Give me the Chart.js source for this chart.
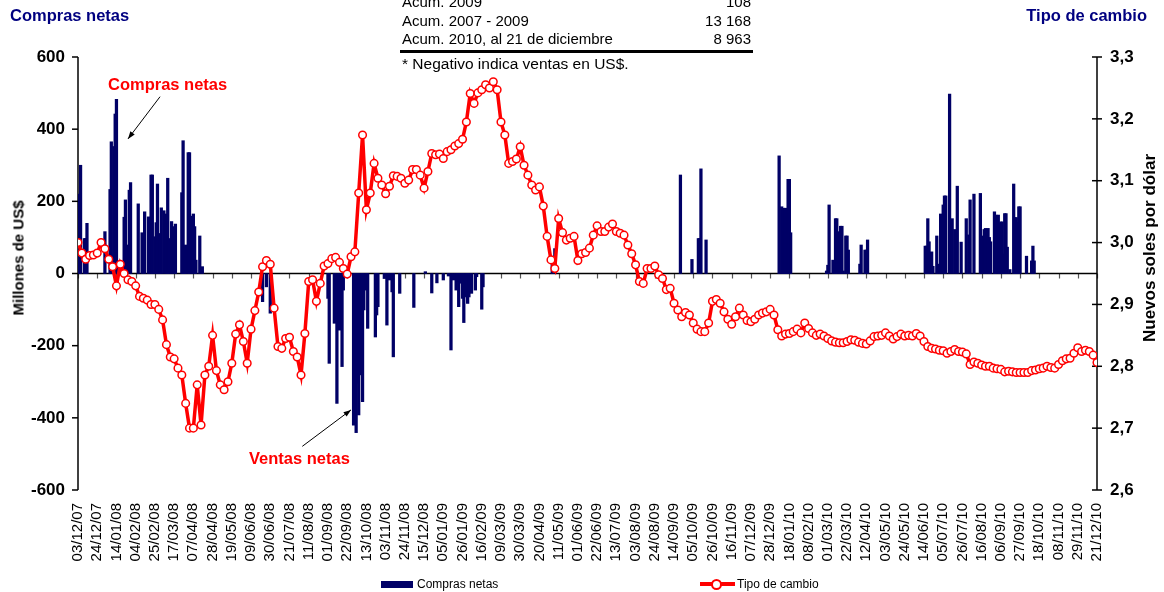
<!DOCTYPE html>
<html>
<head>
<meta charset="utf-8">
<script src="https://cdn.jsdelivr.net/npm/chart.js@4.4.0/dist/chart.umd.min.js"></script>
<style>
  body { margin: 0; background: #fff; font-family: 'Liberation Sans', Arial, sans-serif; }
  #wrap { position: relative; width: 1164px; height: 592px; overflow: hidden; }
  #chart { position: absolute; left: 0; top: 0; }
  .t { position: absolute; white-space: nowrap; line-height: 18px; }
  .navy { color: #000080; font-weight: bold; font-size: 16.5px; }
  .red { color: #ff0000; font-weight: bold; font-size: 16.5px; }
  .row { position: absolute; left: 402px; width: 349px; display: flex; justify-content: space-between; font-size: 15px; line-height: 18px; }
  .rot { position: absolute; white-space: nowrap; font-weight: bold; transform: translate(-50%, -50%) rotate(-90deg); }
  .leg { position: absolute; font-size: 12px; line-height: 14px; }
</style>
</head>
<body>
<div id="wrap">
  <canvas id="chart" width="1164" height="592"></canvas>

  <div class="t navy" style="left:10px; top:6px;">Compras netas</div>
  <div class="t navy" style="right:17px; top:6px;">Tipo de cambio</div>

  <div class="row" style="top:-7px;"><span>Acum. 2009</span><span>108</span></div>
  <div class="row" style="top:12px;"><span>Acum. 2007 - 2009</span><span>13 168</span></div>
  <div class="row" style="top:30px;"><span>Acum. 2010, al 21 de diciembre</span><span>8 963</span></div>
  <div style="position:absolute; left:400px; top:50px; width:353px; height:3px; background:#000;"></div>
  <div class="t" style="left:402px; top:55px; font-size:15.5px;">* Negativo indica ventas en US$.</div>

  <div class="t red" style="left:108px; top:75px;">Compras netas</div>
  <div class="t red" style="left:249px; top:449px;">Ventas netas</div>

  <div class="rot" style="left:18px; top:258px; font-size:15px;">Millones de US$</div>
  <div class="rot" style="left:1150px; top:248px; font-size:17px;">Nuevos soles por dólar</div>

  <div style="position:absolute; left:381px; top:581px; width:32px; height:7px; background:#000066;"></div>
  <div class="leg" style="left:417px; top:577px;">Compras netas</div>
  <div style="position:absolute; left:700px; top:582px; width:35px; height:4px; background:#ff0000;"></div>
  <div style="position:absolute; left:711px; top:579px; width:7px; height:7px; border:2px solid #ff0000; border-radius:50%; background:#fff;"></div>
  <div class="leg" style="left:737px; top:577px;">Tipo de cambio</div>
</div>

<script>
// Etiquetas del eje X (cada 15 dias habiles)
const xLabels = [
  '03/12/07', '24/12/07', '14/01/08', '04/02/08', '25/02/08', '17/03/08', '07/04/08', '28/04/08',
  '19/05/08', '09/06/08', '30/06/08', '21/07/08', '11/08/08', '01/09/08', '22/09/08', '13/10/08',
  '03/11/08', '24/11/08', '15/12/08', '05/01/09', '26/01/09', '16/02/09', '09/03/09', '30/03/09',
  '20/04/09', '11/05/09', '01/06/09', '22/06/09', '13/07/09', '03/08/09', '24/08/09', '14/09/09',
  '05/10/09', '26/10/09', '16/11/09', '07/12/09', '28/12/09', '18/01/10', '08/02/10', '01/03/10',
  '22/03/10', '12/04/10', '03/05/10', '24/05/10', '14/06/10', '05/07/10', '26/07/10', '16/08/10',
  '06/09/10', '27/09/10', '18/10/10', '08/11/10', '29/11/10', '21/12/10'
];
const daysPerLabel = 15;
const lastDay = 795;

// Tipo de cambio (S/. por US$), leido cada 3 dias habiles
const tcStep = 3;
const tcValues = [
  3.00, 2.983, 2.973, 2.979, 2.98, 2.983, 3.00, 2.99, 2.973, 2.961,
  2.93, 2.965, 2.95, 2.94, 2.937, 2.93, 2.913, 2.91, 2.907, 2.90,
  2.90, 2.892, 2.875, 2.835, 2.815, 2.812, 2.797, 2.786, 2.74, 2.70,
  2.70, 2.77, 2.705, 2.786, 2.80, 2.85, 2.793, 2.77, 2.762, 2.775,
  2.805, 2.852, 2.867, 2.84, 2.805, 2.86, 2.89, 2.92,
  2.961, 2.971, 2.965, 2.894, 2.832, 2.829, 2.845, 2.847, 2.824, 2.815,
  2.786, 2.853, 2.937, 2.94, 2.905, 2.934, 2.962, 2.966, 2.974, 2.976,
  2.968, 2.958, 2.949, 2.977, 2.985, 3.08, 3.174, 3.053, 3.08, 3.128,
  3.104, 3.093, 3.079, 3.091, 3.108, 3.107, 3.104, 3.096, 3.101, 3.118,
  3.118, 3.109, 3.088, 3.115, 3.144, 3.142, 3.143, 3.136, 3.147,
  3.15, 3.156, 3.16, 3.167, 3.195, 3.241, 3.225, 3.242, 3.247, 3.255,
  3.25, 3.26, 3.247, 3.195, 3.174, 3.128, 3.131, 3.135, 3.155, 3.125,
  3.109, 3.093, 3.085, 3.09, 3.059, 3.01, 2.972, 2.958, 3.039, 3.016,
  3.004, 3.007, 3.01, 2.971, 2.982, 2.984, 2.991, 3.012, 3.027, 3.018,
  3.018, 3.025, 3.03, 3.018, 3.015, 3.012, 2.996, 2.982, 2.964, 2.937,
  2.934, 2.958, 2.958, 2.962, 2.948, 2.942, 2.924, 2.926, 2.902, 2.891,
  2.88, 2.887, 2.883, 2.87, 2.86, 2.856, 2.856, 2.87, 2.905, 2.908,
  2.902, 2.888, 2.876, 2.868, 2.88, 2.894, 2.883, 2.874, 2.872, 2.876,
  2.883, 2.886, 2.888, 2.892, 2.883, 2.859, 2.849, 2.852, 2.853, 2.856,
  2.86, 2.854, 2.87, 2.861, 2.854, 2.85, 2.852, 2.849, 2.845,
  2.841, 2.839, 2.838, 2.838, 2.84, 2.843, 2.842, 2.839, 2.837, 2.836,
  2.841, 2.848, 2.849, 2.85, 2.854, 2.849, 2.844, 2.848, 2.852, 2.849,
  2.85, 2.849, 2.853, 2.849, 2.84, 2.832, 2.829, 2.828, 2.826, 2.825,
  2.821, 2.824, 2.827, 2.824, 2.823, 2.82, 2.803, 2.807, 2.805, 2.802,
  2.8, 2.8, 2.797, 2.796, 2.795, 2.791, 2.792, 2.791, 2.79,
  2.79, 2.79, 2.79, 2.793, 2.794, 2.796, 2.797, 2.8, 2.798, 2.797,
  2.803, 2.809, 2.812, 2.813, 2.821, 2.83, 2.824, 2.826, 2.824, 2.818,
  2.806
];

// Compras netas (millones de US$): dia habil y monto
const barDays = [
  1, 2, 5, 6, 7, 21, 25, 26, 28, 29, 30, 33, 36, 37, 39, 40, 41, 47, 50, 52,
  55, 57, 58, 60, 61, 62, 64, 65, 67, 69, 70, 71, 73, 75, 76, 81, 82, 83, 84, 86,
  87, 89, 90, 91, 92, 95, 97,
  144, 147, 150, 195, 196, 200, 202, 204, 206, 207, 215, 216, 217, 218, 219, 221, 222, 223, 225, 226,
  232, 233, 234, 239, 241, 243, 245, 246, 251, 262, 271, 276, 280, 285, 289, 291, 293, 295, 296, 297,
  298, 300, 301, 303, 304, 305, 307, 310, 311, 315, 316,
  370, 372,
  470, 479, 484, 485, 486, 490, 547, 549, 550, 551, 552, 553, 554, 555, 556,
  584, 585, 586, 589, 591, 592, 594, 595, 596, 597, 599, 600, 601, 610, 611, 614, 615, 616,
  661, 662, 663, 664, 666, 667, 670, 671, 673, 675, 676, 677, 680, 682, 684, 686, 689, 693, 695, 696,
  699, 704, 705, 707, 708, 710, 711, 712, 715, 716, 718, 719, 720, 721, 722, 723, 724, 725, 727, 730,
  731, 732, 733, 734, 735, 740, 744, 745, 746
];
const barValues = [
  220, 300, 97, 97, 139, 116, 233, 365, 352, 442, 483, 28, 156, 204, 79, 231, 252, 193, 113, 171,
  157, 273, 273, 102, 141, 248, 111, 182, 174, 165, 264, 97, 144, 130, 137, 224, 368, 74, 79, 335,
  335, 159, 165, 130, 37, 104, 19,
  -78, -37, -110, -69, -249, -138, -360, -157, -258, -46, -420, -83, -441, -304, -392, -281, -355, -101, -46, -152,
  -176, -115, -92, -14, -143, -18, -51, -231, -55, -94, 5, -54, -26, -18, -7, -212, -18, -46, -23, -92,
  -27, -69, -136, -65, -83, -65, -55, -46, -9, -99, -37,
  28, 69,
  273, 39, 97, 97, 290, 93, 326, 185, 181, 116, 181, 19, 261, 261, 113,
  7, 23, 190, 37, 152, 152, 116, 131, 131, 7, 104, 104, 65, 26, 79, 65, 65, 93,
  76, 76, 152, 88, 60, 20, 104, 26, 165, 190, 215, 215, 497, 152, 122, 242, 87, 152, 107, 204,
  220, 222, 104, 122, 125, 125, 100, 88, 171, 162, 162, 139, 143, 143, 54, 166, 166, 73, 11, 248,
  155, 155, 142, 185, 185, 48, 35, 76, 35
];

// Flechas de las anotaciones: [dia, valor] cola -> punta
const arrowCompras = [[64, 490], [39, 373]];
const arrowVentas = [[175, -479], [213, -378]];

Chart.defaults.font.family = "'Liberation Sans', Arial, sans-serif";

const lineData = tcValues.map((v, k) => ({ x: k * tcStep, y: v }));
const barData = barDays.map((d, i) => ({ x: d, y: barValues[i] }));

function seg(ctx, x1, y1, x2, y2) {
  ctx.beginPath();
  ctx.moveTo(x1, y1);
  ctx.lineTo(x2, y2);
  ctx.stroke();
}

function drawArrow(ctx, chart, pts) {
  const sx = chart.scales.x, sy = chart.scales.y;
  const x1 = sx.getPixelForValue(pts[0][0]), y1 = sy.getPixelForValue(pts[0][1]);
  const x2 = sx.getPixelForValue(pts[1][0]), y2 = sy.getPixelForValue(pts[1][1]);
  const ang = Math.atan2(y2 - y1, x2 - x1);
  ctx.strokeStyle = '#000';
  ctx.fillStyle = '#000';
  ctx.lineWidth = 1;
  seg(ctx, x1, y1, x2, y2);
  ctx.beginPath();
  ctx.moveTo(x2, y2);
  ctx.lineTo(x2 - 8 * Math.cos(ang - 0.35), y2 - 8 * Math.sin(ang - 0.35));
  ctx.lineTo(x2 - 8 * Math.cos(ang + 0.35), y2 - 8 * Math.sin(ang + 0.35));
  ctx.closePath();
  ctx.fill();
}

// Ejes al estilo Excel: linea del cero con marcas, ejes laterales
const axesPlugin = {
  id: 'excelAxes',
  beforeDatasetsDraw(chart) {
    const { ctx, chartArea: a, scales } = chart;
    const y0 = scales.y.getPixelForValue(0);
    ctx.save();
    ctx.strokeStyle = '#555';
    ctx.lineWidth = 1.2;
    scales.x.ticks.forEach(t => {
      const px = Math.round(scales.x.getPixelForValue(t.value)) + 0.5;
      seg(ctx, px, y0, px, y0 + 5);
    });
    ctx.strokeStyle = '#000';
    ctx.lineWidth = 1.5;
    seg(ctx, a.left, y0, a.right, y0);
    seg(ctx, a.left, a.top, a.left, a.bottom);
    scales.y.ticks.forEach(t => {
      const p = scales.y.getPixelForValue(t.value);
      seg(ctx, a.left - 6, p, a.left, p);
    });
    seg(ctx, a.right, a.top, a.right, a.bottom);
    scales.y1.ticks.forEach(t => {
      const p = scales.y1.getPixelForValue(t.value);
      seg(ctx, a.right - 5, p, a.right + 5, p);
    });
    ctx.restore();
  },
  afterDraw(chart) {
    const ctx = chart.ctx;
    ctx.save();
    drawArrow(ctx, chart, arrowCompras);
    drawArrow(ctx, chart, arrowVentas);
    ctx.restore();
  }
};

new Chart(document.getElementById('chart'), {
  type: 'bar',
  data: {
    datasets: [
      {
        type: 'line',
        label: 'Tipo de cambio',
        data: lineData,
        yAxisID: 'y1',
        borderColor: '#ff0000',
        borderWidth: 3.5,
        pointRadius: 3.8,
        pointBackgroundColor: '#ffffff',
        pointBorderColor: '#ff0000',
        pointBorderWidth: 1.5,
        tension: 0,
        order: 1
      },
      {
        type: 'bar',
        label: 'Compras netas',
        data: barData,
        yAxisID: 'y',
        backgroundColor: '#000066',
        barThickness: 2.6,
        order: 2
      }
    ]
  },
  options: {
    responsive: false,
    animation: false,
    layout: { padding: { top: 57, left: 0, right: 0, bottom: 0 } },
    plugins: { legend: { display: false }, tooltip: { enabled: false } },
    scales: {
      x: {
        type: 'linear',
        min: 0,
        max: lastDay,
        offset: false,
        grid: { display: false, drawTicks: false },
        border: { display: false },
        ticks: {
          stepSize: daysPerLabel,
          maxTicksLimit: 100,
          autoSkip: false,
          minRotation: 90,
          maxRotation: 90,
          padding: 13,
          color: '#000',
          font: { size: 15 },
          callback: v => xLabels[Math.round(v / daysPerLabel)] || ''
        },
        afterFit: s => { s.height = 102; }
      },
      y: {
        position: 'left',
        min: -600,
        max: 600,
        grid: { display: false, drawTicks: false },
        border: { display: false },
        ticks: { stepSize: 200, padding: 13, color: '#000', font: { size: 17, weight: 'bold' } },
        afterFit: s => { s.width = 78; }
      },
      y1: {
        position: 'right',
        min: 2.6,
        max: 3.3,
        grid: { display: false, drawTicks: false },
        border: { display: false },
        ticks: {
          stepSize: 0.1,
          padding: 13,
          color: '#000',
          font: { size: 17, weight: 'bold' },
          callback: v => v.toFixed(1).replace('.', ',')
        },
        afterFit: s => { s.width = 67; }
      }
    }
  },
  plugins: [axesPlugin]
});
</script>
</body>
</html>
